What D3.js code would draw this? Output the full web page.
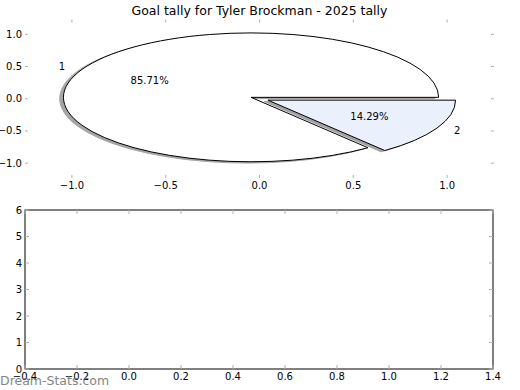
<!DOCTYPE html>
<html lang="en">
<head>
<meta charset="UTF-8">
<title>Goal tally for Tyler Brockman - 2025 tally</title>
<script src="https://d3js.org/d3.v7.min.js"></script>
<style>
    body { margin: 0; background: #fff; font-family: "DejaVu Sans", sans-serif; }
    svg text { font-family: "DejaVu Sans", sans-serif; }
</style>
</head>
<body>
<svg width="520" height="390"></svg>
<script>
    // chart data
    const title = "Goal tally for Tyler Brockman - 2025 tally";
    const sliceLabels = ["1", "2"];
    const sliceValues = [6, 1];
    const sliceColors = ["#ffffff", "#ebf1fc"];
    const explode = [0.05, 0.05];
    const pieXTicks = [-1.0, -0.5, 0.0, 0.5, 1.0];
    const pieYTicks = [-1.0, -0.5, 0.0, 0.5, 1.0];
    const lowXTicks = [-0.4, -0.2, 0.0, 0.2, 0.4, 0.6, 0.8, 1.0, 1.2, 1.4];
    const lowYTicks = [0, 1, 2, 3, 4, 5, 6];

    const svg = d3.select("svg");
    const tickColor = "#b0b0b0";

    // ---- top axes (pie) ----
    const x = d3.scaleLinear().domain([-1.25, 1.25]).range([25, 494]);
    const y = d3.scaleLinear().domain([-1.23, 1.23]).range([178, 19.5]);
    const kx = x(1) - x(0), ky = y(0) - y(1);

    svg.append("text")
        .attr("x", (x.range()[0] + x.range()[1]) / 2)
        .attr("y", 15)
        .attr("text-anchor", "middle")
        .style("font-size", "12.5px")
        .text(title);

    function ticks(g, xs, ys, fx, fy, fmtX, fmtY, len) {
        const [x0, x1] = fx.range();
        const [y0, y1] = fy.range();
        xs.forEach(v => {
            g.append("line").attr("x1", fx(v)).attr("x2", fx(v)).attr("y1", y0).attr("y2", y0 - len)
                .attr("stroke", tickColor);
            g.append("line").attr("x1", fx(v)).attr("x2", fx(v)).attr("y1", y1).attr("y2", y1 + len)
                .attr("stroke", tickColor);
            g.append("text").attr("x", fx(v)).attr("y", y0 + 11).attr("text-anchor", "middle")
                .style("font-size", "10px").text(fmtX(v));
        });
        ys.forEach(v => {
            g.append("line").attr("y1", fy(v)).attr("y2", fy(v)).attr("x1", x0).attr("x2", x0 + len)
                .attr("stroke", tickColor);
            g.append("line").attr("y1", fy(v)).attr("y2", fy(v)).attr("x1", x1).attr("x2", x1 - len)
                .attr("stroke", tickColor);
            g.append("text").attr("x", x0 - 3).attr("y", fy(v)).attr("dy", "0.35em").attr("text-anchor", "end")
                .style("font-size", "10px").text(fmtY(v));
        });
    }

    const fmt1 = v => d3.format(".1f")(v).replace("-", "\u2212");
    const topAx = svg.append("g");
    ticks(topAx, pieXTicks, pieYTicks, x, y, fmt1, fmt1, 3);

    // matplotlib pie: start at 3 o'clock, counter-clockwise; d3 angle = 90deg - theta
    const pie = d3.pie().sort(null).startAngle(Math.PI / 2).endAngle(Math.PI / 2 - 2 * Math.PI);
    const arcs = pie(sliceValues);
    const arc = d3.arc().innerRadius(0).outerRadius(1);
    const total = d3.sum(sliceValues);

    arcs.forEach((a, i) => {
        const mid = (a.startAngle + a.endAngle) / 2;
        a.dx = Math.sin(mid); a.dy = Math.cos(mid);
        a.cx = explode[i] * a.dx; a.cy = explode[i] * a.dy;
    });

    const pieG = topAx.append("g");
    // shadows first
    arcs.forEach((a, i) => {
        const c = d3.rgb(sliceColors[i]);
        const sc = d3.rgb(c.r * 0.3, c.g * 0.3, c.b * 0.3);
        pieG.append("path")
            .attr("d", arc(a))
            .attr("transform", `translate(${x(a.cx - 0.02)},${y(a.cy - 0.02)}) scale(${kx},${ky})`)
            .attr("fill", sc).attr("stroke", sc).attr("opacity", 0.5)
            .attr("stroke-width", 1).attr("vector-effect", "non-scaling-stroke");
    });
    arcs.forEach((a, i) => {
        pieG.append("path")
            .attr("d", arc(a))
            .attr("transform", `translate(${x(a.cx)},${y(a.cy)}) scale(${kx},${ky})`)
            .attr("fill", sliceColors[i]).attr("stroke", "#000")
            .attr("stroke-width", 1).attr("vector-effect", "non-scaling-stroke")
            .attr("stroke-linejoin", "miter");
    });
    arcs.forEach((a, i) => {
        pieG.append("text")
            .attr("x", x(a.cx + 1.1 * a.dx)).attr("y", y(a.cy + 1.1 * a.dy))
            .attr("dy", "0.35em")
            .attr("text-anchor", a.dx < 0 ? "end" : "start")
            .style("font-size", "10px").text(sliceLabels[i]);
        pieG.append("text")
            .attr("x", x(a.cx + 0.6 * a.dx)).attr("y", y(a.cy + 0.6 * a.dy))
            .attr("dy", "0.35em").attr("text-anchor", "middle")
            .style("font-size", "10px")
            .text(d3.format(".2f")(100 * sliceValues[i] / total) + "%");
    });

    // ---- bottom axes (empty) ----
    const x2 = d3.scaleLinear().domain([-0.4, 1.4]).range([25, 493]);
    const y2 = d3.scaleLinear().domain([0, 6]).range([369, 210]);
    const low = svg.append("g");
    low.append("rect")
        .attr("x", x2(-0.4)).attr("y", y2(6))
        .attr("width", x2(1.4) - x2(-0.4)).attr("height", y2(0) - y2(6))
        .attr("fill", "none").attr("stroke", "#000");
    ticks(low, lowXTicks, lowYTicks, x2, y2, fmt1, v => String(v), 4);

    // watermark
    svg.append("text")
        .attr("x", 0).attr("y", 385)
        .style("font-size", "12.5px")
        .attr("fill", "#707070").attr("opacity", 0.85)
        .text("Dream-Stats.com");
</script>
</body>
</html>
